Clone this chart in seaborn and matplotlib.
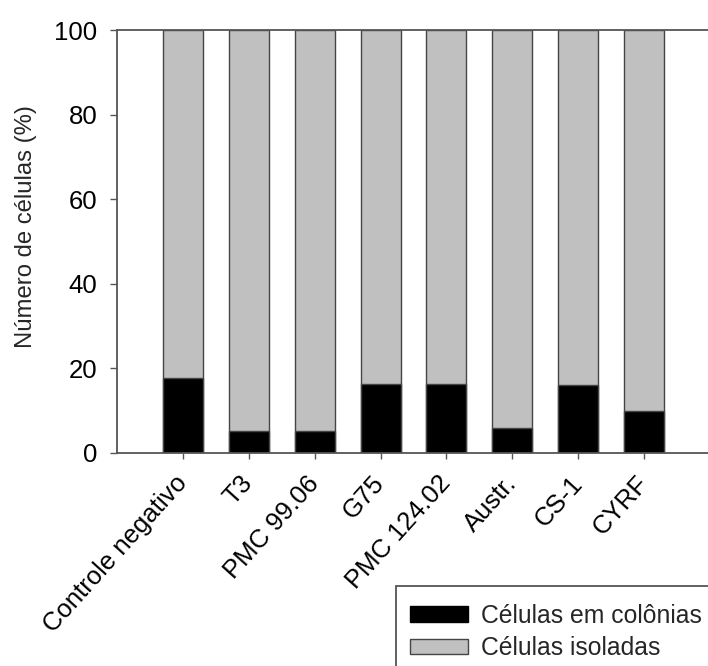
import matplotlib
matplotlib.use("Agg")
import matplotlib.pyplot as plt
from matplotlib.patches import Patch, Rectangle
import pandas as pd
import seaborn as sns

# Percentage of cells in colonies per treatment; the remainder are isolated cells
grupos = ["Controle negativo", "T3", "PMC 99.06", "G75", "PMC 124.02",
          "Austr.", "CS-1", "CYRF"]
colonias = [17.8, 5.1, 5.1, 16.4, 16.4, 5.8, 16.0, 10.0]
total = [100, 100, 100, 100, 100, 100, 100, 100]
legenda = ["Células em colônias", "Células isoladas"]
yticks = [0, 20, 40, 60, 80, 100]

df = pd.DataFrame({"grupo": grupos, "colonias": colonias, "total": total})

sns.set_theme(style="white")
plt.rcParams["font.family"] = ["Liberation Sans", "DejaVu Sans"]
fs = 18.5
plt.rcParams["font.size"] = fs

W, H = 708, 666
fig = plt.figure(figsize=(W / 100, H / 100), dpi=100)
ax = fig.add_axes([117 / W, 1 - 453 / H, 1 - 117 / W, (453 - 30) / H])

edge = "#454545"
cinza = "#c0c0c0"
largura = 0.607

# Full bar (isolated + colonies) in grey, colonies stacked from the base in black
sns.barplot(data=df, x="grupo", y="total", order=grupos, color=cinza,
            saturation=1, width=largura, edgecolor=edge, linewidth=1.0, ax=ax)
sns.barplot(data=df, x="grupo", y="colonias", order=grupos, color="black",
            saturation=1, width=largura, edgecolor=edge, linewidth=1.0, ax=ax)

ax.set_xlim(-1, 7.97)
ax.set_ylim(0, 100)
ax.set_yticks(yticks)
ax.set_yticklabels([str(v) for v in yticks], fontsize=fs)
ax.set_xticks(range(len(grupos)))
ax.set_xticklabels(grupos, fontsize=fs, rotation=48, ha="right",
                   va="center", rotation_mode="anchor")

ax.set_xlabel("")
ax.set_ylabel("Número de células (%)", fontsize=17.2)
ax.yaxis.set_label_coords(-80 / (W - 117), (453 - 227) / (453 - 30))

spine_c = "#555555"
for lado in ["left", "bottom", "top"]:
    ax.spines[lado].set_color(spine_c)
    ax.spines[lado].set_linewidth(1.3)
ax.spines["right"].set_visible(False)

ax.tick_params(axis="y", direction="out", length=5, width=1.0, color=spine_c,
               pad=9, left=True, labelcolor="black")
ax.tick_params(axis="x", direction="out", length=4, width=1.0, color=spine_c,
               pad=15, bottom=True, labelcolor="black")

lfs = 17.8
handles = [
    Patch(facecolor="black", edgecolor="black", linewidth=1.0),
    Patch(facecolor=cinza, edgecolor=edge, linewidth=1.0),
]
leg = fig.legend(handles, legenda, loc="upper left",
                 bbox_to_anchor=(392 / W, 1 - 586 / H),
                 bbox_transform=fig.transFigure, borderaxespad=0,
                 fontsize=lfs, frameon=True, fancybox=False, framealpha=1,
                 handlelength=2.35, handleheight=0.57, handletextpad=0.52,
                 labelspacing=0.33, borderpad=0.72)
leg.get_frame().set_visible(False)

# Legend box runs past the right and bottom edges of the figure
fig.patches.append(Rectangle((396 / W, -0.05), 0.5, 0.05 + (H - 586) / H,
                             transform=fig.transFigure, facecolor="none",
                             edgecolor=spine_c, linewidth=1.3, zorder=0))

fig.savefig("out.png", dpi=100)
